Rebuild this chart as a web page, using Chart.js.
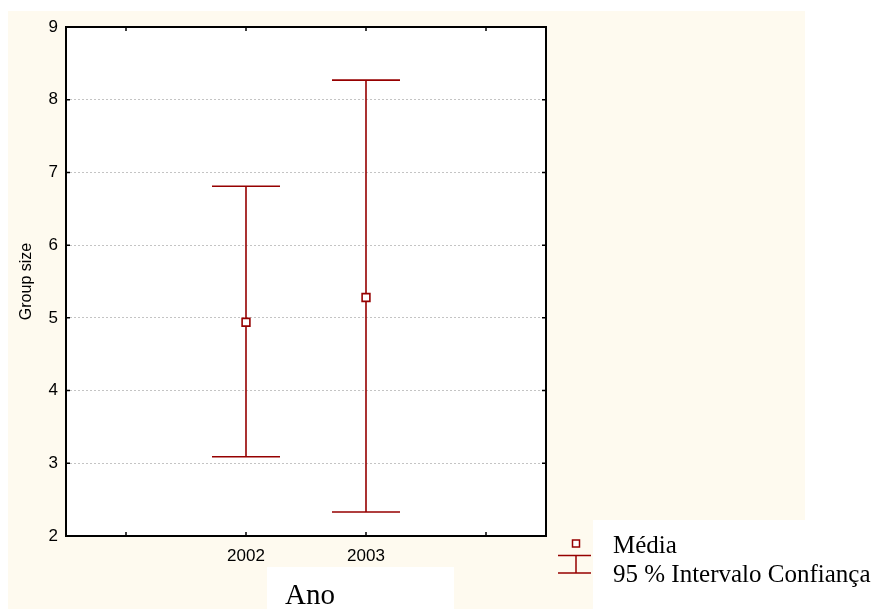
<!DOCTYPE html>
<html>
<head>
<meta charset="utf-8">
<script src="https://cdn.jsdelivr.net/npm/chart.js@4/dist/chart.umd.min.js"></script>
<style>
  html, body { margin: 0; padding: 0; background: #ffffff; }
  #wrap { position: relative; width: 885px; height: 609px; overflow: hidden; }
  canvas { position: absolute; left: 0; top: 0; }
  .serif { position: absolute; font-family: "Liberation Serif", "Times New Roman", serif; color: #000; line-height: 1; white-space: nowrap; }
</style>
</head>
<body>
<div id="wrap">
  <canvas id="chart" width="885" height="609"></canvas>
  <div class="serif" style="left:285px; top:580px; font-size:29px;">Ano</div>
  <div class="serif" style="left:613px; top:532px; font-size:25px;">Média</div>
  <div class="serif" style="left:613px; top:561px; font-size:25px;">95 % Intervalo Confiança</div>
</div>
<script>
// x slots: empty slots on each side, like the original axis
const years = ['', '2002', '2003', ''];
const means = [null, 4.94, 5.28, null];
const ciLow = [null, 3.09, 2.33, null];
const ciHigh = [null, 6.81, 8.27, null];
const yMin = 2;
const yMax = 9;

const dark = '#960000';
const cream = '#fefaef';
const sans = '"Liberation Sans", Arial, sans-serif';

// backgrounds, white boxes
const backdrop = {
  id: 'backdrop',
  beforeDraw(chart) {
    const ctx = chart.ctx;
    const a = chart.chartArea;
    ctx.save();
    ctx.fillStyle = '#ffffff';
    ctx.fillRect(0, 0, chart.width, chart.height);
    ctx.fillStyle = cream;
    ctx.fillRect(8, 11, 797, 598);
    ctx.fillStyle = '#ffffff';
    ctx.fillRect(a.left, a.top, a.right - a.left, a.bottom - a.top);
    ctx.fillRect(267, 567, 187, 42);   // "Ano" box
    ctx.fillRect(593, 520, 292, 89);   // legend box
    ctx.restore();
  }
};

// confidence interval whiskers
const whiskers = {
  id: 'whiskers',
  beforeDatasetsDraw(chart) {
    const ctx = chart.ctx;
    const x = chart.scales.x, y = chart.scales.y;
    ctx.save();
    ctx.strokeStyle = dark;
    ctx.lineWidth = 1.6;
    for (let i = 0; i < years.length; i++) {
      if (ciLow[i] == null) continue;
      const px = x.getPixelForValue(i);
      const lo = y.getPixelForValue(ciLow[i]);
      const hi = y.getPixelForValue(ciHigh[i]);
      ctx.beginPath();
      ctx.moveTo(px, lo); ctx.lineTo(px, hi);
      ctx.moveTo(px - 34, lo); ctx.lineTo(px + 34, lo);
      ctx.moveTo(px - 34, hi); ctx.lineTo(px + 34, hi);
      ctx.stroke();
    }
    ctx.restore();
  }
};

// frame, inward ticks, legend symbols
const frame = {
  id: 'frame',
  afterDraw(chart) {
    const ctx = chart.ctx;
    const a = chart.chartArea;
    const x = chart.scales.x, y = chart.scales.y;
    ctx.save();
    ctx.strokeStyle = '#000';
    ctx.lineWidth = 1.5;
    ctx.beginPath();
    x.ticks.forEach((t, i) => {
      const px = x.getPixelForTick(i);
      ctx.moveTo(px, a.bottom); ctx.lineTo(px, a.bottom - 4);
      ctx.moveTo(px, a.top); ctx.lineTo(px, a.top + 4);
    });
    y.ticks.forEach((t, i) => {
      const py = y.getPixelForTick(i);
      ctx.moveTo(a.left, py); ctx.lineTo(a.left + 4, py);
      ctx.moveTo(a.right, py); ctx.lineTo(a.right - 4, py);
    });
    ctx.stroke();
    ctx.lineWidth = 2;
    ctx.strokeRect(a.left, a.top, a.right - a.left, a.bottom - a.top);

    // legend symbols
    ctx.strokeStyle = dark;
    ctx.lineWidth = 1.5;
    ctx.fillStyle = '#fff';
    ctx.fillRect(572.5, 540, 7, 7);
    ctx.strokeRect(572.5, 540, 7, 7);
    ctx.beginPath();
    ctx.moveTo(558, 555.5); ctx.lineTo(591, 555.5);
    ctx.moveTo(576, 555.5); ctx.lineTo(576, 573);
    ctx.moveTo(558, 573); ctx.lineTo(591, 573);
    ctx.stroke();
    ctx.restore();
  }
};

new Chart(document.getElementById('chart'), {
  type: 'line',
  data: {
    labels: years,
    datasets: [{
      label: 'Média',
      data: means,
      showLine: false,
      pointStyle: 'rect',
      pointRadius: 5.5,
      pointBorderWidth: 1.6,
      pointBorderColor: dark,
      pointBackgroundColor: '#ffffff'
    }]
  },
  options: {
    responsive: false,
    animation: false,
    devicePixelRatio: 1,
    layout: { padding: { top: 27, left: 0, right: 339, bottom: 0 } },
    plugins: {
      legend: { display: false },
      tooltip: { enabled: false }
    },
    scales: {
      x: {
        type: 'category',
        offset: true,
        grid: { display: false, drawTicks: false },
        border: { display: false },
        ticks: {
          autoSkip: false,
          maxRotation: 0,
          padding: 10,
          color: '#000',
          font: { family: sans, size: 17 }
        },
        afterFit(scale) { scale.height = 73; }
      },
      y: {
        min: yMin,
        max: yMax,
        grid: { color: '#c4c4c4', lineWidth: 1, drawTicks: false },
        border: { display: false, dash: [2, 2] },
        ticks: {
          stepSize: 1,
          padding: 8,
          color: '#000',
          font: { family: sans, size: 17 }
        },
        title: {
          display: true,
          text: 'Group size',
          color: '#000',
          padding: { top: 17, bottom: 0 },
          font: { family: sans, size: 16 }
        },
        afterFit(scale) { scale.width = 66; }
      }
    }
  },
  plugins: [backdrop, whiskers, frame]
});
</script>
</body>
</html>
